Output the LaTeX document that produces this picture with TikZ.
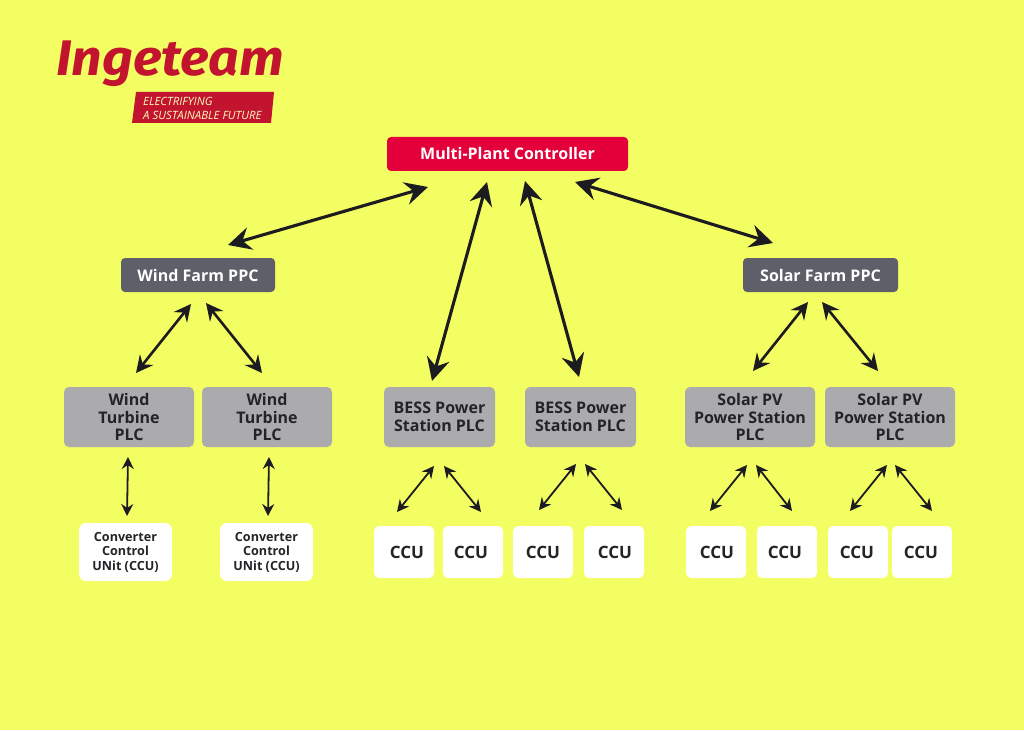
\documentclass[tikz,border=0pt]{standalone}
\usepackage{fontspec}
\setmainfont{Open Sans}
\newfontfamily\logofont[FakeStretch=1.07]{Fira Sans}
\usetikzlibrary{arrows.meta,calc}
\definecolor{bgy}{HTML}{F3FE62}
\definecolor{mpc}{HTML}{E4003A}
\definecolor{ppc}{HTML}{5E5F68}
\definecolor{plc}{HTML}{ABABAD}
\definecolor{ink}{HTML}{232328}
\definecolor{arrowink}{HTML}{1B1B20}
\definecolor{logored}{HTML}{C2142F}
\tikzset{
  x=1pt,y=-1pt,
  box/.style={anchor=center,inner sep=0pt,rounded corners=#1,align=center,font=\bfseries},
  mpcbox/.style={box=4,fill=mpc,text=white,font=\bfseries\fontsize{16}{18}\selectfont},
  ppcbox/.style={box=4,fill=ppc,text=white,font=\bfseries\fontsize{16}{18}\selectfont},
  plcbox/.style={box=5,fill=plc,text=ink,font=\bfseries\fontsize{16}{17.7}\selectfont},
  ccubox/.style={box=5,fill=white,text=ink,font=\bfseries\fontsize{17}{18}\selectfont},
  convbox/.style={box=7,fill=white,text=ink,font=\bfseries\fontsize{12.6}{14.5}\selectfont},
  bigarrow/.style={draw=arrowink,line width=3.1pt,{Stealth[length=23pt,width=23pt,inset=8pt]}-{Stealth[length=23pt,width=23pt,inset=8pt]}},
  midarrow/.style={draw=arrowink,line width=2.6pt,{Stealth[length=17pt,width=17pt,inset=6pt]}-{Stealth[length=17pt,width=17pt,inset=6pt]}},
  smallarrow/.style={draw=arrowink,line width=1.8pt,{Stealth[length=12pt,width=12pt,inset=4pt]}-{Stealth[length=12pt,width=12pt,inset=4pt]}},
}
\newcommand{\boxat}[7]{\node[#1,minimum width=#4pt-#3pt,minimum height=#6pt-#5pt] (#2) at ({(#3+#4)/2},{(#5+#6)/2}) {#7};}
\begin{document}
\begin{tikzpicture}
\useasboundingbox (0,0) rectangle (1024,730);
\fill[bgy] (0,0) rectangle (1024,730);
% logo
\node[anchor=center,inner sep=0pt,text=logored,font=\logofont\bfseries\itshape\fontsize{50}{56}\selectfont] (logo) at (170,64) {Ingeteam};
\fill[logored] (136,92) -- (274,92) -- (271,123) -- (132,123) -- cycle;
\node[anchor=west,inner sep=0pt,text=bgy!45!white,align=left,font=\itshape\fontsize{11.4}{14}\selectfont] (tag) at (143,108) {ELECTRIFYING\\A SUSTAINABLE FUTURE};
% boxes
\boxat{mpcbox}{mp}{387}{628}{137}{171}{Multi-Plant Controller}
\boxat{ppcbox}{wf}{121}{275}{258}{292}{Wind Farm PPC}
\boxat{ppcbox}{sf}{743}{898}{258}{292}{Solar Farm PPC}
\boxat{plcbox}{wt1}{64}{194}{387}{447}{Wind\\Turbine\\PLC}
\boxat{plcbox}{wt2}{202}{332}{387}{447}{Wind\\Turbine\\PLC}
\boxat{plcbox}{be1}{384}{495}{387}{447}{BESS Power\\Station PLC}
\boxat{plcbox}{be2}{525}{636}{387}{447}{BESS Power\\Station PLC}
\boxat{plcbox}{pv1}{685}{815}{387}{447}{Solar PV\\Power Station\\PLC}
\boxat{plcbox}{pv2}{825}{955}{387}{447}{Solar PV\\Power Station\\PLC}
\boxat{convbox}{cv1}{79}{172}{523}{581}{Converter\\Control\\UNit (CCU)}
\boxat{convbox}{cv2}{220}{313}{523}{581}{Converter\\Control\\UNit (CCU)}
\boxat{ccubox}{c1}{374}{434}{526}{578}{\hspace*{6pt}CCU}
\boxat{ccubox}{c2}{443}{503}{526}{578}{CCU\hspace*{4pt}}
\boxat{ccubox}{c3}{513}{573}{526}{578}{CCU}
\boxat{ccubox}{c4}{584}{644}{526}{578}{\hspace*{2pt}CCU}
\boxat{ccubox}{c5}{686}{746}{526}{578}{\hspace*{2pt}CCU}
\boxat{ccubox}{c6}{757}{817}{526}{578}{CCU\hspace*{4pt}}
\boxat{ccubox}{c7}{828}{888}{526}{578}{CCU\hspace*{2pt}}
\boxat{ccubox}{c8}{892}{952}{526}{578}{CCU\hspace*{2pt}}
% connector ends
\foreach \n/\x/\y in {a1/428/187,a2/228/245,b1/487/182,b2/432/381,d1/525/181,d2/579/377,e1/575/182,e2/773/243,
 f1/191/304,f2/136/373,g1/206/303,g2/262/373,h1/808/302,h2/753/371,i1/822/302,i2/878/371,
 j1/128/457,j2/127/516,k1/269/457,k2/268/516,
 l1/434/466,l2/397/512,m1/444/466,m2/481/512,n1/576/464,n2/539/510,o1/585/464,o2/622/510,
 p1/747/465,p2/710/511,q1/756/465,q2/792/511,r1/887/465,r2/850/511,s1/895/465,s2/932/511}
 {\coordinate (\n) at (\x,\y);}
\foreach \u/\v in {a1/a2,b1/b2,d1/d2,e1/e2} {\draw[bigarrow] (\u) -- (\v);}
\foreach \u/\v in {f1/f2,g1/g2,h1/h2,i1/i2} {\draw[midarrow] (\u) -- (\v);}
\foreach \u/\v in {j1/j2,k1/k2,l1/l2,m1/m2,n1/n2,o1/o2,p1/p2,q1/q2,r1/r2,s1/s2} {\draw[smallarrow] (\u) -- (\v);}
\end{tikzpicture}
\end{document}
